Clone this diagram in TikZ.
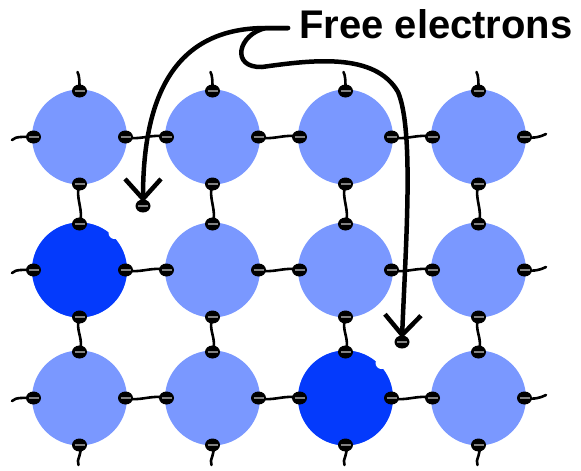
\documentclass[tikz,border=0pt]{standalone}
\usepackage{fontspec}
\setmainfont{Liberation Sans}
\usetikzlibrary{shapes.geometric,arrows.meta}
\definecolor{ionlight}{RGB}{122,152,255}
\definecolor{iondark}{RGB}{4,58,252}
\definecolor{shine}{RGB}{130,130,130}
\tikzset{
  atom/.style={circle, fill=ionlight, draw=none, minimum size=95pt, inner sep=0pt},
  darkatom/.style={atom, fill=iondark},
  bite/.style={circle, fill=white, draw=none, minimum size=12pt, inner sep=0pt},
  elec/.style={ellipse, fill=black, draw=none, minimum width=15pt, minimum height=13pt, inner sep=0pt,
    path picture={\draw[shine, line width=1.3pt]
      ([xshift=2.5pt]path picture bounding box.west) -- ([xshift=-2.5pt]path picture bounding box.east);}},
  bond/.style={draw=black, line width=2.6pt, line cap=round},
  pointer/.style={draw=black, line width=4.5pt, line cap=round,
    -{Straight Barb[length=20pt, width=36pt, line width=4.5pt]}},
  caption/.style={font=\bfseries\fontsize{40}{48}\selectfont, inner sep=0pt, anchor=base west}
}
\begin{document}
\begin{tikzpicture}[x=1pt, y=-1pt]
\useasboundingbox (0,0) rectangle (581,471);

% ion cores of the lattice
\foreach \r/\y in {1/137, 2/270, 3/398}{
  \foreach \c/\x in {1/79.5, 2/212.5, 3/345.5, 4/478.5}{
    \node[atom] (a\r\c) at (\x,\y) {};
  }
}
% two ions that have given up an electron
\node[darkatom] (a21) at (79.5,270) {};
\node[bite] (bite21) at (79.5+35,270-37) {};
\node[darkatom] (a33) at (345.5,398) {};
\node[bite] (bite33) at (345.5+36,398-35) {};

% bound electrons at the four sides of every ion
\foreach \r/\y in {1/137, 2/270, 3/398}{
  \foreach \c/\x in {1/79.5, 2/212.5, 3/345.5, 4/478.5}{
    \coordinate (pn\r\c) at (\x,{\y-46});
    \coordinate (ps\r\c) at (\x,{\y+47});
    \coordinate (pw\r\c) at ({\x-46},\y);
    \coordinate (pe\r\c) at ({\x+46},\y);
  }
}

% bonds between neighbouring ions
\foreach \r in {1,2,3}{
  \foreach \c/\d in {1/2, 2/3, 3/4}{
    \draw[bond] (pe\r\c) .. controls +(14,4) and +(-14,-4) .. (pw\r\d);
  }
}
\foreach \r/\s in {1/2, 2/3}{
  \foreach \c in {1,2,3,4}{
    \draw[bond] (ps\r\c) .. controls +(-5,14) and +(5,-14) .. (pn\s\c);
  }
}

% short tails of the electrons on the outer edge
\foreach \c/\x in {1/79.5, 2/212.5, 3/345.5, 4/478.5}{
  \coordinate (tn\c) at ({\x-2},72);
  \draw[bond] (pn1\c) .. controls +(0,-10) and +(2,4) .. (tn\c);
  \coordinate (ts\c) at ({\x-1},465);
  \draw[bond] (ps3\c) .. controls +(4,8) and +(-3,-5) .. (ts\c);
}
\foreach \r/\y in {1/137, 2/270, 3/398}{
  \coordinate (tw\r) at (12,{\y+3});
  \draw[bond] (pw\r1) .. controls +(-10,0) and +(4,-4) .. (tw\r);
  \coordinate (te\r) at (546,{\y-3});
  \draw[bond] (pe\r4) .. controls +(10,2) and +(-4,2) .. (te\r);
}

\foreach \r in {1,2,3}{
  \foreach \c in {1,2,3,4}{
    \node[elec] (en\r\c) at (pn\r\c) {};
    \node[elec] (es\r\c) at (ps\r\c) {};
    \node[elec] (ew\r\c) at (pw\r\c) {};
    \node[elec] (ee\r\c) at (pe\r\c) {};
  }
}

% free electrons
\node[elec] (free1) at (143,206) {};
\node[elec] (free2) at (402,342) {};

% label and its pointers
\node[caption] (label) at (299,38) {Free electrons};
\coordinate (lead) at (288,28);
\coordinate (split) at (266,28);
\draw[pointer] (lead) -- (split) .. controls (192,28) and (143,72) .. ([yshift=-3pt]free1.north);
\draw[pointer] (lead) -- (split) .. controls (238,34) and (230,68) .. (262,67)
  .. controls (312,60) and (375,52) .. (398,92)
  .. controls (414,130) and (406,240) .. ([yshift=-3pt]free2.north);
\end{tikzpicture}
\end{document}
